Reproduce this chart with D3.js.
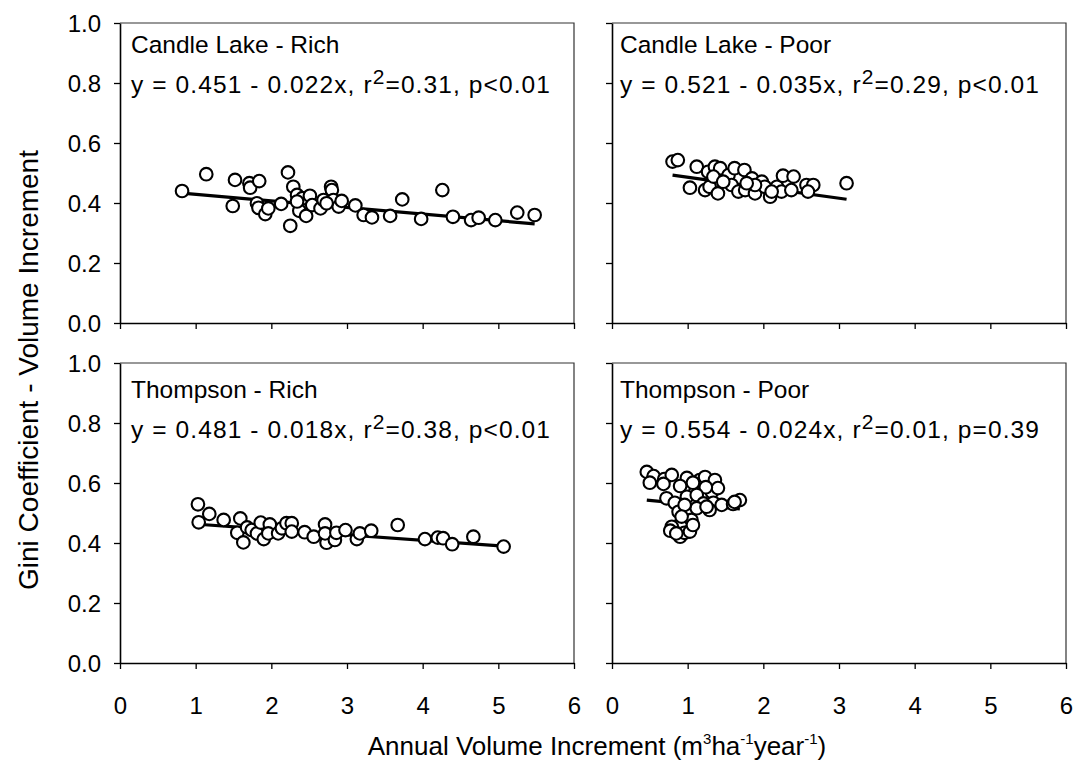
<!DOCTYPE html>
<html>
<head>
<meta charset="utf-8">
<script src="https://cdn.jsdelivr.net/npm/d3@7"></script>
<style>
  html, body { margin: 0; padding: 0; background: #fff; }
  svg { display: block; font-family: "Liberation Sans", Arial, sans-serif; }
</style>
</head>
<body>
<svg id="chart" width="1078" height="760"></svg>
<script>
// Annual volume increment (x) vs. Gini coefficient of volume increment (y)
const candleRich = [
  [0.82,0.44],[1.14,0.496],[1.49,0.39],[1.52,0.477],[1.71,0.466],[1.72,0.451],
  [1.84,0.473],[1.81,0.399],[1.83,0.384],[1.92,0.363],[1.96,0.382],[2.13,0.397],
  [2.22,0.502],[2.25,0.324],[2.29,0.454],[2.34,0.427],[2.37,0.374],[2.41,0.416],
  [2.46,0.357],[2.51,0.424],[2.54,0.393],[2.65,0.382],[2.69,0.41],[2.79,0.454],
  [2.80,0.443],[2.82,0.41],[2.89,0.388],[2.93,0.407],[2.34,0.405],[2.73,0.399],
  [3.11,0.392],[3.22,0.36],[3.33,0.352],[3.57,0.357],[3.73,0.412],[3.98,0.347],
  [4.26,0.443],[4.40,0.354],[4.64,0.343],[4.74,0.351],[4.96,0.343],[5.25,0.368],
  [5.48,0.36]
];
const candlePoor = [
  [0.80,0.538],[0.87,0.543],[1.12,0.521],[1.03,0.451],[1.23,0.443],[1.29,0.454],
  [1.27,0.504],[1.36,0.521],[1.43,0.516],[1.34,0.488],[1.40,0.432],[1.54,0.493],
  [1.62,0.516],[1.75,0.51],[1.58,0.46],[1.67,0.438],[1.76,0.443],[1.85,0.482],
  [1.89,0.432],[1.98,0.471],[2.02,0.454],[2.09,0.421],[2.18,0.454],[2.26,0.491],
  [2.40,0.488],[2.24,0.438],[2.37,0.443],[2.57,0.46],[2.66,0.46],[2.59,0.438],
  [3.10,0.466],[1.89,0.46],[1.78,0.466],[1.47,0.471],[2.11,0.438]
];
const thompsonRich = [
  [1.03,0.529],[1.04,0.469],[1.18,0.497],[1.37,0.477],[1.59,0.482],[1.55,0.434],
  [1.63,0.402],[1.68,0.452],[1.74,0.443],[1.81,0.432],[1.86,0.468],[1.90,0.413],
  [1.98,0.462],[1.96,0.432],[2.09,0.432],[2.14,0.449],[2.20,0.466],[2.27,0.466],
  [2.27,0.438],[2.44,0.436],[2.56,0.421],[2.71,0.462],[2.73,0.401],[2.71,0.432],
  [2.84,0.41],[2.86,0.434],[2.98,0.443],[3.13,0.413],[3.17,0.432],[3.32,0.441],
  [3.67,0.46],[4.03,0.413],[4.20,0.418],[4.27,0.416],[4.39,0.396],[4.67,0.421],
  [5.07,0.388]
];
const thompsonPoor = [
  [0.46,0.637],[0.55,0.623],[0.69,0.613],[0.79,0.627],[0.99,0.617],[1.16,0.61],
  [1.23,0.62],[1.36,0.61],[1.10,0.57],[1.32,0.57],[1.40,0.583],
  [0.50,0.601],[0.68,0.597],[0.90,0.59],[1.07,0.601],[1.24,0.586],[0.72,0.549],
  [0.83,0.534],[0.99,0.554],[1.12,0.56],[1.21,0.532],[1.34,0.534],[1.45,0.527],
  [1.60,0.53],[1.69,0.543],[1.62,0.537],[0.88,0.504],[0.96,0.488],[1.03,0.51],
  [1.12,0.516],[0.92,0.471],[1.05,0.477],[0.79,0.454],[0.77,0.441],[0.90,0.421],
  [0.96,0.434],[1.03,0.438],[1.07,0.46],[0.85,0.432],[1.29,0.51],[1.25,0.521],
  [0.96,0.527],[0.92,0.488]
];

const panelTitles = ["Candle Lake - Rich", "Candle Lake - Poor", "Thompson - Rich", "Thompson - Poor"];
const intercepts = [0.451, 0.521, 0.481, 0.554];
const slopes = [-0.022, -0.035, -0.018, -0.024];
const rSquared = ["0.31", "0.29", "0.38", "0.01"];
const pValues = ["p<0.01", "p<0.01", "p<0.01", "p=0.39"];
const xTicks = [0, 1, 2, 3, 4, 5, 6];
const yTicks = [0.0, 0.2, 0.4, 0.6, 0.8, 1.0];

const seriesList = [candleRich, candlePoor, thompsonRich, thompsonPoor];

const svg = d3.select("#chart");
const cols = [{x0: 120, x1: 574, tx: 11}, {x0: 612, x1: 1066, tx: 8}];
const rows = [{y0: 23, y1: 323, t1: 30, t2: 70}, {y0: 363, y1: 663, t1: 35, t2: 75}];

seriesList.forEach((pts, i) => {
  const col = cols[i % 2], row = rows[Math.floor(i / 2)];
  const x = d3.scaleLinear().domain([0, 6]).range([col.x0, col.x1]);
  const y = d3.scaleLinear().domain([0, 1]).range([row.y1, row.y0]);
  const g = svg.append("g");

  // frame (top and right edges)
  g.append("path")
    .attr("d", `M${col.x0},${row.y0}H${col.x1}V${row.y1}`)
    .attr("fill", "none").attr("stroke", "#333").attr("stroke-width", 1.2);

  // left axis
  const ya = d3.axisLeft(y).tickValues(yTicks).tickSize(6).tickSizeOuter(0)
    .tickFormat(i % 2 === 0 ? d3.format(".1f") : () => "");
  const yg = g.append("g").attr("transform", `translate(${col.x0},0)`).call(ya);
  yg.select(".domain").attr("stroke", "#000").attr("stroke-width", 1.6);
  yg.selectAll(".tick line").attr("stroke", "#000").attr("stroke-width", 1.3);
  yg.selectAll(".tick text").attr("font-size", 24).attr("fill", "#000")
    .attr("x", -19).attr("dy", "0.36em");

  // bottom axis
  const xa = d3.axisBottom(x).tickValues(xTicks).tickSize(6).tickSizeOuter(0)
    .tickFormat(i >= 2 ? d3.format("d") : () => "");
  const xg = g.append("g").attr("transform", `translate(0,${row.y1})`).call(xa);
  xg.select(".domain").attr("stroke", "#000").attr("stroke-width", 1.6);
  xg.selectAll(".tick line").attr("stroke", "#000").attr("stroke-width", 1.3);
  xg.selectAll(".tick text").attr("font-size", 24).attr("fill", "#000")
    .attr("y", 0).attr("dy", 51);

  // regression line over the observed range
  const ext = d3.extent(pts, d => d[0]);
  const fit = v => intercepts[i] + slopes[i] * v;
  g.append("line")
    .attr("x1", x(ext[0])).attr("y1", y(fit(ext[0])))
    .attr("x2", x(ext[1])).attr("y2", y(fit(ext[1])))
    .attr("stroke", "#000").attr("stroke-width", 3.2);

  // observations
  g.selectAll("circle").data(pts).join("circle")
    .attr("cx", d => x(d[0])).attr("cy", d => y(d[1])).attr("r", 6.3)
    .attr("fill", "#fff").attr("stroke", "#000").attr("stroke-width", 2.1);

  // labels
  g.append("text").attr("x", col.x0 + col.tx).attr("y", row.y0 + row.t1)
    .attr("font-size", 24.5).text(panelTitles[i]);
  const eq = g.append("text").attr("x", col.x0 + col.tx).attr("y", row.y0 + row.t2)
    .attr("font-size", 24.5).attr("letter-spacing", 1.1);
  const sign = slopes[i] < 0 ? "-" : "+";
  eq.append("tspan").text(`y = ${intercepts[i].toFixed(3)} ${sign} ${Math.abs(slopes[i]).toFixed(3)}x, r`);
  eq.append("tspan").attr("font-size", 21).attr("dy", -9).text("2");
  eq.append("tspan").attr("dy", 9).text(`=${rSquared[i]}, ${pValues[i]}`);
});

// axis titles
svg.append("text")
  .attr("transform", "translate(38,370) rotate(-90)")
  .attr("text-anchor", "middle").attr("font-size", 28)
  .text("Gini Coefficient - Volume Increment");

const xt = svg.append("text").attr("x", 597).attr("y", 755)
  .attr("text-anchor", "middle").attr("font-size", 26);
xt.append("tspan").text("Annual Volume Increment (m");
xt.append("tspan").attr("font-size", 15).attr("dy", -11).text("3");
xt.append("tspan").attr("dy", 11).text("ha");
xt.append("tspan").attr("font-size", 15).attr("dy", -11).text("-1");
xt.append("tspan").attr("dy", 11).text("year");
xt.append("tspan").attr("font-size", 15).attr("dy", -11).text("-1");
xt.append("tspan").attr("dy", 11).text(")");
</script>
</body>
</html>
